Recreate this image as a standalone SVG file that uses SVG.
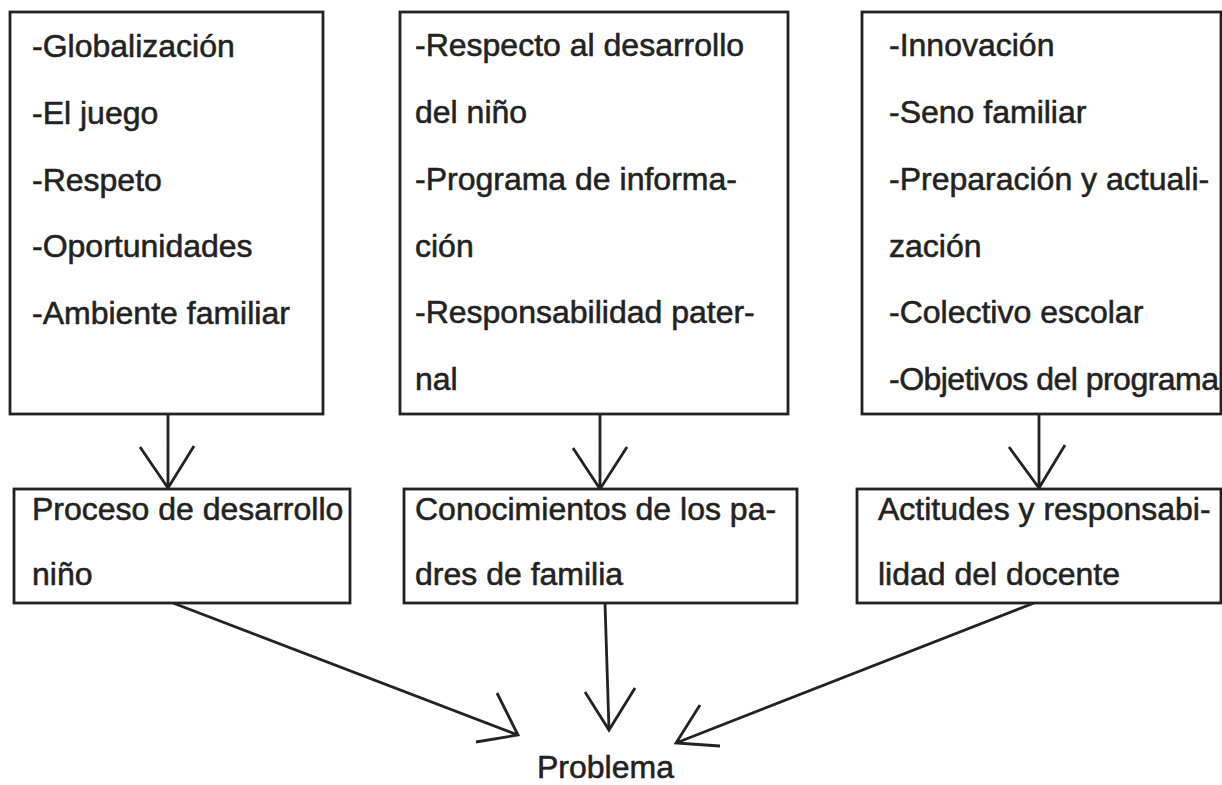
<svg xmlns="http://www.w3.org/2000/svg" width="1222" height="785" viewBox="0 0 1222 785">
<style>
.box{fill:#fff;stroke:#222;stroke-width:2.8}
.c{fill:none;stroke:#222;stroke-width:2.8;stroke-linejoin:miter;stroke-linecap:butt}
text{font-family:"Liberation Sans",Arial,Helvetica,sans-serif;font-size:32px;fill:#222;stroke:#222;stroke-width:0.55}
</style>
<rect width="1222" height="785" fill="#fff"/>
<g id="connectors">
<path class="c" d="M168 414 L168 488 M140 447 L168 488 L194 446"/>
<path class="c" d="M600 414 L600 488 M573 448 L600 489 L627 447"/>
<path class="c" d="M1039 414 L1039 488 M1009 447 L1039 488 L1065 445"/>
<path class="c" d="M173 603 L518 735 M497 693 L518 735 L476 742"/>
<path class="c" d="M605 603 L609 730 M585 692 L609 730 L635 688"/>
<path class="c" d="M1034 603 L676 743 M700 705 L676 743 L720 746"/>
</g>
<g id="top-left">
<rect class="box" x="10" y="12" width="313" height="402"/>
<text x="32" y="57">-Globalización</text>
<text x="32" y="124">-El juego</text>
<text x="32" y="191">-Respeto</text>
<text x="32" y="257">-Oportunidades</text>
<text x="32" y="324">-Ambiente familiar</text>
</g>
<g id="top-middle">
<rect class="box" x="400" y="12" width="388" height="402"/>
<text x="415" y="56">-Respecto al desarrollo</text>
<text x="415" y="123">del niño</text>
<text x="415" y="190">-Programa de informa-</text>
<text x="415" y="257">ción</text>
<text x="415" y="323">-Responsabilidad pater-</text>
<text x="415" y="390">nal</text>
</g>
<g id="top-right">
<rect class="box" x="862" y="12" width="359" height="402"/>
<text x="889" y="56">-Innovación</text>
<text x="889" y="123">-Seno familiar</text>
<text x="889" y="190">-Preparación y actuali-</text>
<text x="889" y="257">zación</text>
<text x="889" y="323">-Colectivo escolar</text>
<text x="889" y="390" textLength="330" lengthAdjust="spacing">-Objetivos del programa</text>
</g>
<g id="mid-left">
<rect class="box" x="14" y="489" width="336" height="114"/>
<text x="32" y="520">Proceso de desarrollo</text>
<text x="32" y="585">niño</text>
</g>
<g id="mid-middle">
<rect class="box" x="404" y="489" width="393" height="114"/>
<text x="415" y="520">Conocimientos de los pa-</text>
<text x="415" y="585">dres de familia</text>
</g>
<g id="mid-right">
<rect class="box" x="857" y="489" width="364" height="114"/>
<text x="878" y="520">Actitudes y responsabi-</text>
<text x="878" y="585">lidad del docente</text>
</g>
<g id="problema">
<text x="537" y="778">Problema</text>
</g>
</svg>
